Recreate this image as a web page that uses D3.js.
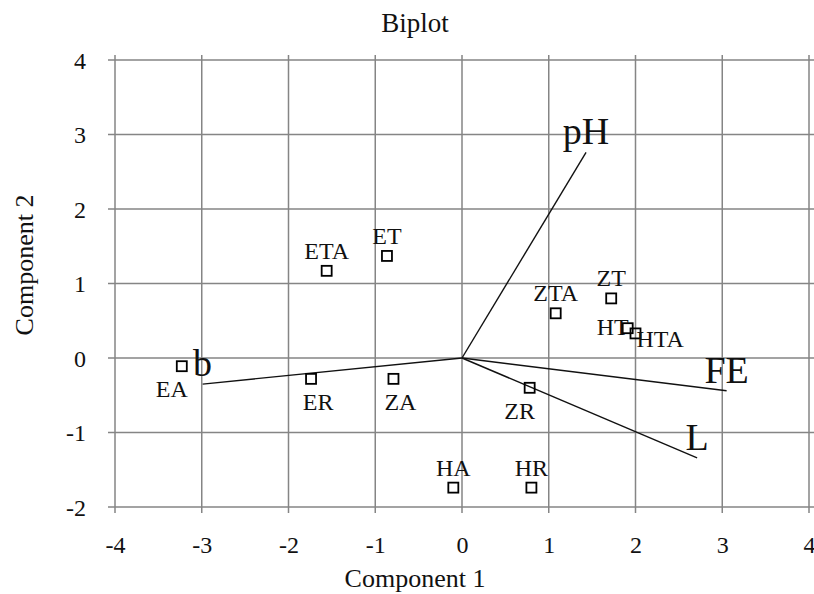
<!DOCTYPE html>
<html>
<head>
<meta charset="utf-8">
<script src="https://cdn.jsdelivr.net/npm/d3@7"></script>
<style>
  html, body { margin: 0; padding: 0; background: #fff; }
  svg { display: block; }
  text { font-family: "Liberation Serif", "Times New Roman", serif; fill: #111; }
</style>
</head>
<body>
<svg id="chart" width="814" height="594"></svg>
<script>
// ---- data ----
const pointNames = ["EA", "ER", "ZA", "ETA", "ET", "ZTA", "ZT", "HT", "HTA", "ZR", "HA", "HR"];
const pointX     = [-3.23, -1.74, -0.79, -1.56, -0.865, 1.08, 1.72, 1.91, 2.00, 0.78, -0.10, 0.80];
const pointY     = [-0.11, -0.28, -0.28, 1.17, 1.37, 0.60, 0.80, 0.40, 0.33, -0.40, -1.74, -1.74];
const labelPlace = ["belowLeft", "below", "below", "above", "above", "above", "above", "left", "right", "belowLeft", "above", "above"];

const vectorNames = ["pH", "FE", "L", "b"];
const vectorX     = [1.43, 3.05, 2.71, -2.99];
const vectorY     = [2.76, -0.44, -1.34, -0.35];

const xTicks = [-4, -3, -2, -1, 0, 1, 2, 3, 4];
const yTicks = [-2, -1, 0, 1, 2, 3, 4];

const titleText = "Biplot";
const xTitle = "Component 1";
const yTitle = "Component 2";

// ---- layout ----
(function () {
const svg = d3.select("#chart");
const pLeft = 115, pRight = 809, pTop = 60, pBottom = 507;
const x = d3.scaleLinear().domain([-4, 4]).range([pLeft, pRight]);
const y = d3.scaleLinear().domain([-2, 4]).range([pBottom, pTop]);
const gridColor = "#858585";
const fmt = d => String(d); // ASCII hyphen-minus as in the reference

// grid
const g = svg.append("g");
g.selectAll("line.vg").data(xTicks).join("line")
  .attr("x1", d => x(d)).attr("x2", d => x(d))
  .attr("y1", pTop - 5).attr("y2", pBottom + 6)
  .attr("stroke", gridColor).attr("stroke-width", 1.5);
g.selectAll("line.hg").data(yTicks).join("line")
  .attr("y1", d => y(d)).attr("y2", d => y(d))
  .attr("x1", pLeft - 7).attr("x2", pRight + 5)
  .attr("stroke", gridColor).attr("stroke-width", 1.5);

// axes (labels)
const xAxis = svg.append("g").attr("transform", `translate(0,${pBottom})`)
  .call(d3.axisBottom(x).tickValues(xTicks).tickSize(0).tickFormat(fmt));
xAxis.select(".domain").remove();
xAxis.selectAll("text").attr("y", 46).attr("dy", 0)
  .style("font-size", "24px").style("font-family", "'Liberation Serif', serif").attr("fill", "#111");

const yAxis = svg.append("g").attr("transform", `translate(${pLeft},0)`)
  .call(d3.axisLeft(y).tickValues(yTicks).tickSize(0).tickFormat(fmt));
yAxis.select(".domain").remove();
yAxis.selectAll("text").attr("x", -29).attr("dy", "0.34em")
  .style("font-size", "24px").style("font-family", "'Liberation Serif', serif").attr("fill", "#111");

// vectors
const ox = x(0), oy = y(0);
svg.selectAll("line.vec").data(vectorNames).join("line")
  .attr("x1", ox).attr("y1", oy)
  .attr("x2", (d, i) => x(vectorX[i])).attr("y2", (d, i) => y(vectorY[i]))
  .attr("stroke", "#111").attr("stroke-width", 1.4);
svg.selectAll("text.vec").data(vectorNames).join("text")
  .attr("x", (d, i) => x(vectorX[i]))
  .attr("y", (d, i) => y(vectorY[i]) - 8)
  .attr("text-anchor", "middle")
  .style("font-size", "38px")
  .text(d => d);

// points
const sq = 10;
svg.selectAll("rect.pt").data(pointNames).join("rect")
  .attr("x", (d, i) => x(pointX[i]) - sq / 2)
  .attr("y", (d, i) => y(pointY[i]) - sq / 2)
  .attr("width", sq).attr("height", sq)
  .attr("fill", "none").attr("stroke", "#000").attr("stroke-width", 1.8);

const place = {
  above:     { dx: 0,   dy: -12, anchor: "middle" },
  below:     { dx: 7,   dy: 31,  anchor: "middle" },
  belowLeft: { dx: -10, dy: 31,  anchor: "middle" },
  left:      { dx: 1,   dy: 7,   anchor: "end" },
  right:     { dx: 1,   dy: 14,  anchor: "start" }
};
svg.selectAll("text.pt").data(pointNames).join("text")
  .attr("x", (d, i) => x(pointX[i]) + place[labelPlace[i]].dx)
  .attr("y", (d, i) => y(pointY[i]) + place[labelPlace[i]].dy)
  .attr("text-anchor", (d, i) => place[labelPlace[i]].anchor)
  .style("font-size", "24px")
  .text(d => d);

// titles
svg.append("text").attr("x", 415).attr("y", 32).attr("text-anchor", "middle")
  .style("font-size", "27px").text(titleText);
svg.append("text").attr("x", 415).attr("y", 587).attr("text-anchor", "middle")
  .style("font-size", "26px").text(xTitle);
svg.append("text").attr("transform", "translate(33,265) rotate(-90)").attr("text-anchor", "middle")
  .style("font-size", "26px").text(yTitle);
})();
</script>
</body>
</html>
